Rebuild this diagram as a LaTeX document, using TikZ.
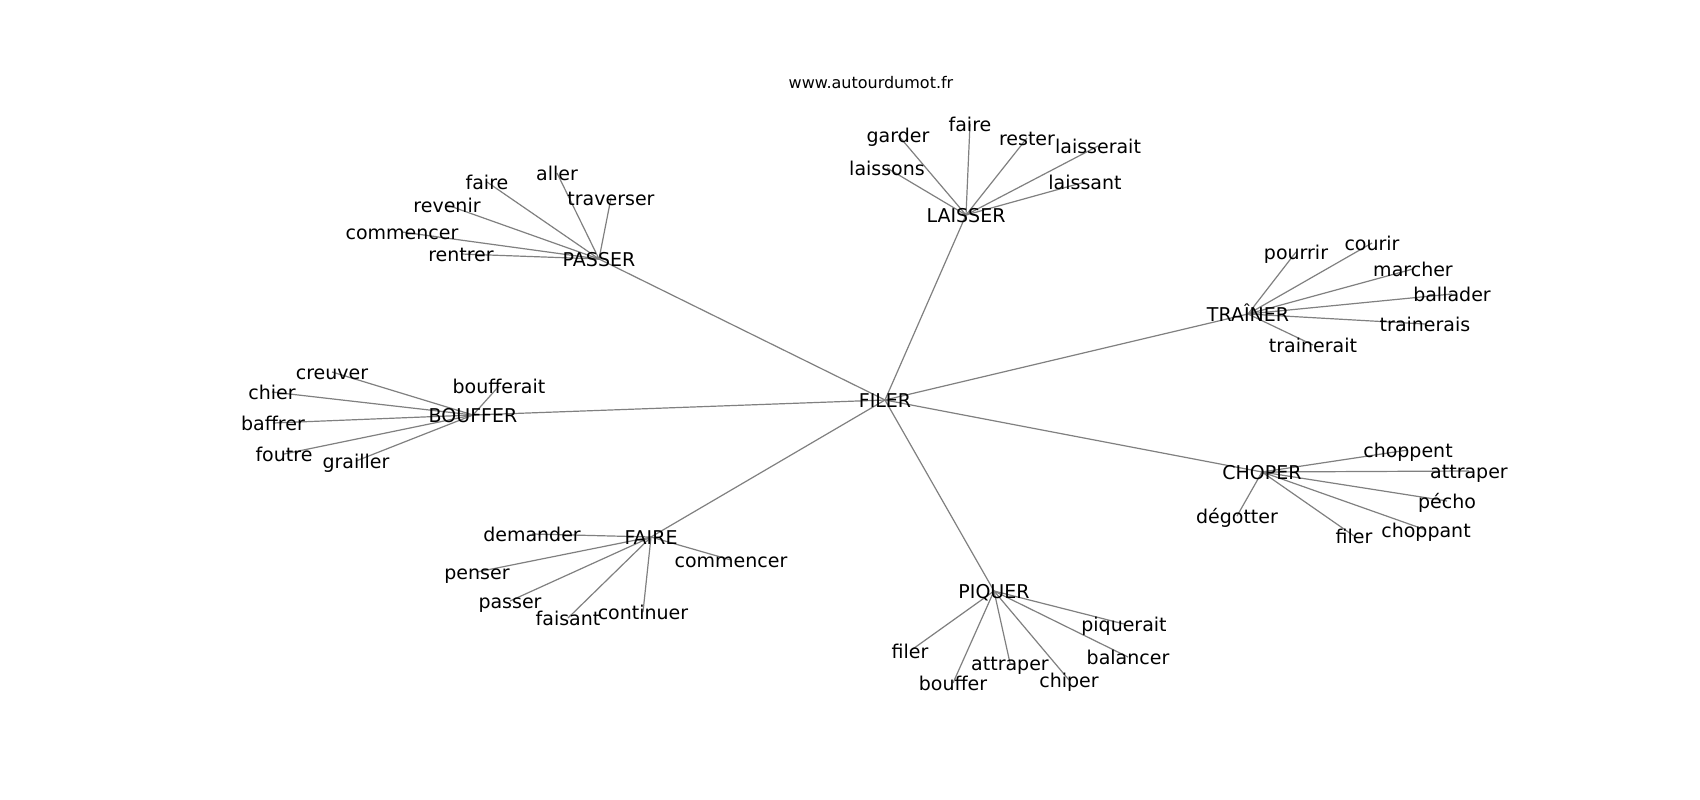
\documentclass[tikz,border=0pt]{standalone}
\usepackage{fontspec}
\setmainfont{DejaVu Sans}
\definecolor{edgegray}{RGB}{128,128,128}
\tikzset{
  lbl/.style={font=\fontsize{19}{19}\selectfont, inner sep=0pt, text height=14.44pt, text depth=3.95pt, anchor=center, yshift=-1.8pt},
  ttl/.style={font=\fontsize{16}{16}\selectfont, inner sep=0pt, text height=12.16pt, text depth=3.33pt, anchor=center},
  edge/.style={draw=edgegray, line width=1.2pt}
}
\begin{document}
\begin{tikzpicture}[x=1pt,y=-1pt]
\useasboundingbox (0,0) rectangle (1700,800);
\fill[white] (0,0) rectangle (1700,800);
% positions
\coordinate (filer) at (885,400);
\coordinate (passer) at (599,259);
\coordinate (laisser) at (966,215);
\coordinate (trainer) at (1248,314);
\coordinate (choper) at (1262,472);
\coordinate (piquer) at (994,591);
\coordinate (faire) at (651,537);
\coordinate (bouffer) at (473,415);
% passer leaves
\coordinate (p1) at (487,182);
\coordinate (p2) at (557,173);
\coordinate (p3) at (611,198);
\coordinate (p4) at (447,205);
\coordinate (p5) at (402,232);
\coordinate (p6) at (461,254);
% laisser leaves
\coordinate (l1) at (898,135);
\coordinate (l2) at (970,124);
\coordinate (l3) at (1027,138);
\coordinate (l4) at (1098,146);
\coordinate (l5) at (887,168);
\coordinate (l6) at (1085,182);
% trainer leaves
\coordinate (t1) at (1296,252);
\coordinate (t2) at (1372,243);
\coordinate (t3) at (1413,269);
\coordinate (t4) at (1452,294);
\coordinate (t5) at (1425,324);
\coordinate (t6) at (1313,345);
% choper leaves
\coordinate (c1) at (1408,450);
\coordinate (c2) at (1469,471);
\coordinate (c3) at (1447,501);
\coordinate (c4) at (1237,516);
\coordinate (c5) at (1354,536);
\coordinate (c6) at (1426,530);
% piquer leaves
\coordinate (q1) at (1124,624);
\coordinate (q2) at (910,651);
\coordinate (q3) at (1128,657);
\coordinate (q4) at (1010,663);
\coordinate (q5) at (1069,680);
\coordinate (q6) at (953,683);
% faire leaves
\coordinate (f1) at (532,534);
\coordinate (f2) at (731,560);
\coordinate (f3) at (477,572);
\coordinate (f4) at (510,601);
\coordinate (f5) at (568,618);
\coordinate (f6) at (643,612);
% bouffer leaves
\coordinate (b1) at (499,386);
\coordinate (b2) at (332,372);
\coordinate (b3) at (272,392);
\coordinate (b4) at (273,423);
\coordinate (b5) at (284,454);
\coordinate (b6) at (356,461);
% edges
\foreach \h in {passer,laisser,trainer,choper,piquer,faire,bouffer} \draw[edge] (filer) -- (\h);
\foreach \l in {p1,p2,p3,p4,p5,p6} \draw[edge] (passer) -- (\l);
\foreach \l in {l1,l2,l3,l4,l5,l6} \draw[edge] (laisser) -- (\l);
\foreach \l in {t1,t2,t3,t4,t5,t6} \draw[edge] (trainer) -- (\l);
\foreach \l in {c1,c2,c3,c4,c5,c6} \draw[edge] (choper) -- (\l);
\foreach \l in {q1,q2,q3,q4,q5,q6} \draw[edge] (piquer) -- (\l);
\foreach \l in {f1,f2,f3,f4,f5,f6} \draw[edge] (faire) -- (\l);
\foreach \l in {b1,b2,b3,b4,b5,b6} \draw[edge] (bouffer) -- (\l);
% labels
\node[ttl] (title) at (871,84) {www.autourdumot.fr};
\node[lbl] (nfiler) at (filer) {FILER};
\node[lbl] (npasser) at (passer) {PASSER};
\node[lbl] (nlaisser) at (laisser) {LAISSER};
\node[lbl] (ntrainer) at (trainer) {TRAÎNER};
\node[lbl] (nchoper) at (choper) {CHOPER};
\node[lbl] (npiquer) at (piquer) {PIQUER};
\node[lbl] (nfaire) at (faire) {FAIRE};
\node[lbl] (nbouffer) at (bouffer) {BOUFFER};
\node[lbl] (np1) at (p1) {faire};
\node[lbl] (np2) at (p2) {aller};
\node[lbl] (np3) at (p3) {traverser};
\node[lbl] (np4) at (p4) {revenir};
\node[lbl] (np5) at (p5) {commencer};
\node[lbl] (np6) at (p6) {rentrer};
\node[lbl] (nl1) at (l1) {garder};
\node[lbl] (nl2) at (l2) {faire};
\node[lbl] (nl3) at (l3) {rester};
\node[lbl] (nl4) at (l4) {laisserait};
\node[lbl] (nl5) at (l5) {laissons};
\node[lbl] (nl6) at (l6) {laissant};
\node[lbl] (nt1) at (t1) {pourrir};
\node[lbl] (nt2) at (t2) {courir};
\node[lbl] (nt3) at (t3) {marcher};
\node[lbl] (nt4) at (t4) {ballader};
\node[lbl] (nt5) at (t5) {trainerais};
\node[lbl] (nt6) at (t6) {trainerait};
\node[lbl] (nc1) at (c1) {choppent};
\node[lbl] (nc2) at (c2) {attraper};
\node[lbl] (nc3) at (c3) {pécho};
\node[lbl] (nc4) at (c4) {dégotter};
\node[lbl] (nc5) at (c5) {filer};
\node[lbl] (nc6) at (c6) {choppant};
\node[lbl] (nq1) at (q1) {piquerait};
\node[lbl] (nq2) at (q2) {filer};
\node[lbl] (nq3) at (q3) {balancer};
\node[lbl] (nq4) at (q4) {attraper};
\node[lbl] (nq5) at (q5) {chiper};
\node[lbl] (nq6) at (q6) {bouffer};
\node[lbl] (nf1) at (f1) {demander};
\node[lbl] (nf2) at (f2) {commencer};
\node[lbl] (nf3) at (f3) {penser};
\node[lbl] (nf4) at (f4) {passer};
\node[lbl] (nf5) at (f5) {faisant};
\node[lbl] (nf6) at (f6) {continuer};
\node[lbl] (nb1) at (b1) {boufferait};
\node[lbl] (nb2) at (b2) {creuver};
\node[lbl] (nb3) at (b3) {chier};
\node[lbl] (nb4) at (b4) {baffrer};
\node[lbl] (nb5) at (b5) {foutre};
\node[lbl] (nb6) at (b6) {grailler};
\end{tikzpicture}
\end{document}
